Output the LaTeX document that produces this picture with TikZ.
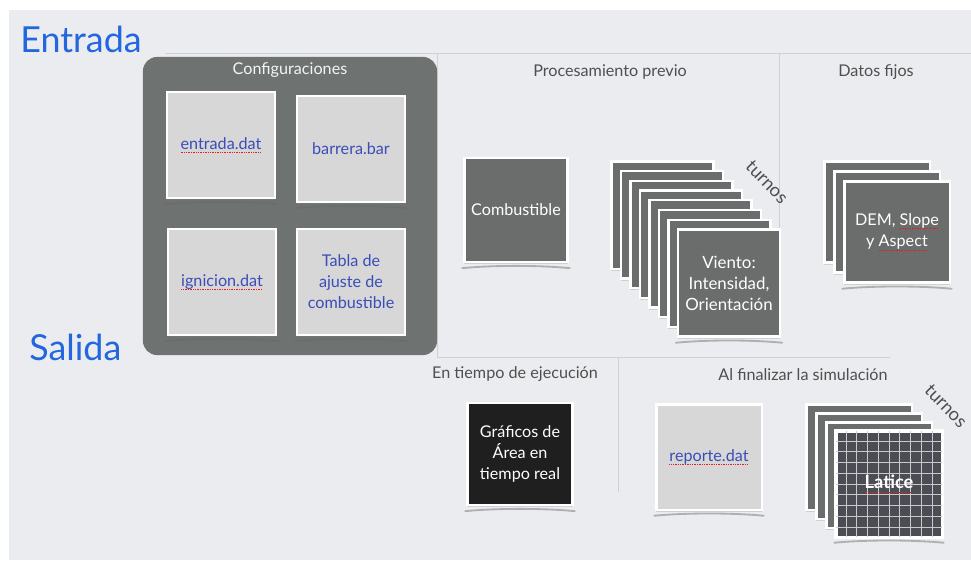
\documentclass[tikz,border=0pt]{standalone}
\usepackage{fontspec}
\setmainfont{Lato}
\usetikzlibrary{positioning, calc, shadows}
\definecolor{bgGray}{HTML}{EBECEF}
\definecolor{sepGray}{HTML}{CDD0D4}
\definecolor{titleBlue}{HTML}{2266E0}
\definecolor{fileBlue}{HTML}{3A4DB8}
\definecolor{labelGray}{HTML}{4F4F4F}
\definecolor{confGray}{HTML}{6E7371}
\definecolor{fileGray}{HTML}{D7D7D7}
\definecolor{dataGray}{HTML}{6A6D6C}
\definecolor{plotBlack}{HTML}{1F1F1F}
\definecolor{laticeGray}{HTML}{4C4D54}
\definecolor{spellRed}{HTML}{E02020}
% red dotted spell-check underline
\newcommand\spelled[1]{\setbox0\hbox{#1}\leavevmode
  \rlap{\raisebox{-0.45ex}{\textcolor{spellRed}{\hbox to \wd0{\xleaders\hbox{\rule{0.6pt}{0.6pt}\kern0.6pt}\hfil}}}}\box0}

\begin{document}
\begin{tikzpicture}[x=0.025cm, y=-0.025cm,
  sep/.style={draw=sepGray, line width=0.6pt},
  title/.style={anchor=base west, inner sep=0pt, text=titleBlue, font=\fontsize{25.5}{30}\selectfont},
  sect/.style={text=labelGray, font=\fontsize{11.5}{13}\selectfont},
  card/.style={rectangle, draw=white, line width=1.6pt, align=center,
               font=\fontsize{11.5}{15}\selectfont, inner sep=2pt,
               drop shadow={shadow xshift=0pt, shadow yshift=-1.5pt, opacity=0.25}},
  file/.style={card, fill=fileGray, text=fileBlue,
               minimum width=2.7cm, minimum height=2.65cm},
  sheet/.style={card, fill=dataGray, text=white,
                minimum width=2.58cm, minimum height=2.6cm},
  turn/.style={text=labelGray, rotate=-46, font=\fontsize{13}{15}\selectfont},
  curl/.style={draw=black!60, line width=1.3pt, opacity=0.45, line cap=round},
  gridln/.style={draw=white!70!laticeGray, line width=0.5pt}
]
% page and background
\fill[white] (0,0) rectangle (971,560);
\fill[bgGray] (9,10) rectangle (971,560);
\useasboundingbox (0,0) rectangle (971,560);

% section lines
\draw[sep] (165,53) -- (971,53);
\draw[sep] (437,53) -- (437,357);
\draw[sep] (779,53) -- (779,300);
\draw[sep] (437,357) -- (890,357);
\draw[sep] (618,357) -- (618,492);

% titles
\node[title] (entrada) at (20,52) {Entrada};
\node[title] (salida)  at (29,360) {Salida};

% Configuraciones
\node[rectangle, rounded corners=10pt, fill=confGray,
      minimum width=7.35cm, minimum height=7.45cm] (conf) at (290,206) {};
\node[text=white!92!confGray, font=\fontsize{11.5}{13}\selectfont] (conftitle) at (290,70) {Configuraciones};
\node[file] (entradadat) at (221,145) {\spelled{entrada.dat}};
\node[file] (barrera)    at (351,149) {barrera.bar};
\node[file] (ignicion)   at (222,282) {\spelled{ignicion.dat}};
\node[file] (tabla)      at (351,282) {Tabla de\\ajuste de\\combustible};

% Procesamiento previo
\node[sect] (proc) at (610,72) {Procesamiento previo};
\node[sheet] (comb) at (516,210) {Combustible};
\foreach \k in {7,...,1}
  \node[sheet, minimum width=2.55cm, minimum height=2.68cm] (viento\k) at ($(729,283)+(-9.5*\k,-9.7*\k)$) {};
\node[sheet, minimum width=2.55cm, minimum height=2.68cm, font=\fontsize{12}{15}\selectfont] (viento) at (729,283) {Viento:\\Intensidad,\\Orientación};
\node[turn] (turnos1) at (767,182) {turnos};

% Datos fijos
\node[sect] (fijos) at (876,72) {Datos fijos};
\foreach \k in {2,1}
  \node[sheet, minimum width=2.63cm, minimum height=2.53cm] (dem\k) at ($(897,232)+(-10*\k,-10*\k)$) {};
\node[sheet, minimum width=2.63cm, minimum height=2.53cm] (dem) at (897,232) {DEM, \spelled{Slope}\\y \spelled{Aspect}};

% En tiempo de ejecucion
\node[sect] (ejec) at (515,374) {En tiempo de ejecución};
\node[sheet, fill=plotBlack, minimum width=2.63cm, minimum height=2.55cm] (graf) at (520,454) {Gráficos de\\Área en\\tiempo real};

% Al finalizar la simulacion
\node[sect] (final) at (803,375) {Al finalizar la simulación};
\node[file, minimum width=2.63cm, minimum height=2.63cm] (reporte) at (709,457) {\spelled{reporte.dat}};
\foreach \k in {3,...,1}
  \node[sheet, minimum width=2.63cm, minimum height=2.63cm] (latice\k) at ($(889,484)+(-10*\k,-9*\k)$) {};
\node[sheet, fill=laticeGray, minimum width=2.63cm, minimum height=2.63cm] (latice) at (889,484) {};
\foreach \k in {1,...,9} {
  \draw[gridln] ($(latice.north west)!\k/10!(latice.north east)$) -- ($(latice.south west)!\k/10!(latice.south east)$);
  \draw[gridln] ($(latice.north west)!\k/10!(latice.south west)$) -- ($(latice.north east)!\k/10!(latice.south east)$);
}
\draw[white, line width=1.6pt] (latice.north west) rectangle (latice.south east);
\node[text=white, font=\bfseries\fontsize{13}{15}\selectfont] (laticelbl) at (latice) {\spelled{Latice}};
\node[turn] (turnos2) at (946,406) {turnos};

% curled shadows under the front cards
\foreach \n in {entradadat, barrera, ignicion, tabla, comb, viento, dem, graf, reporte, latice}
  \draw[curl] ($(\n.south west)+(-1,5)$) .. controls ($(\n.south west)+(30,2)$) and ($(\n.south east)+(-30,2)$) .. ($(\n.south east)+(1,5)$);
\end{tikzpicture}
\end{document}
